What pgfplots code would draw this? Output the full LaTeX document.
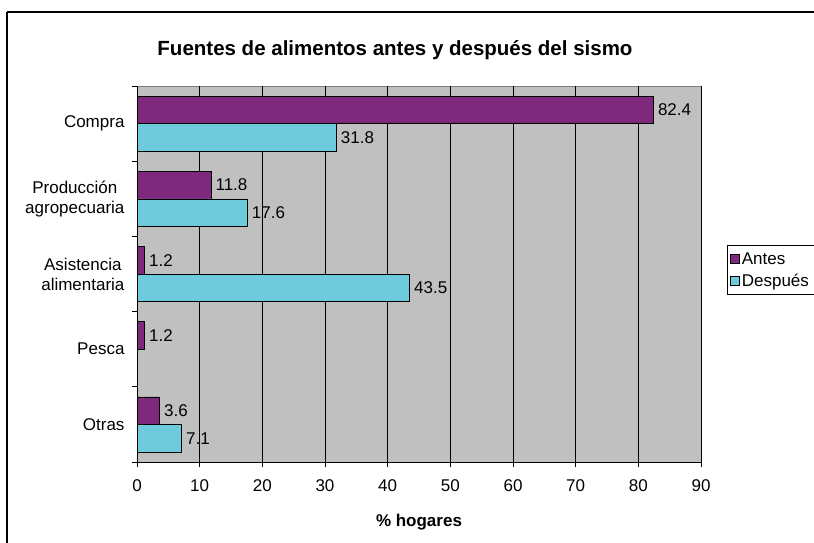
\documentclass[border=0pt]{standalone}
\usepackage{fontspec}
\setmainfont{Liberation Sans}
\usepackage{pgfplots}
\pgfplotsset{compat=1.18}

\definecolor{antes}{HTML}{7F297D}
\definecolor{despues}{HTML}{6DCBDC}
\definecolor{fondo}{HTML}{C0C0C0}
\definecolor{borde}{HTML}{808080}

\begin{document}
\begin{tikzpicture}[x=1pt,y=1pt]
\useasboundingbox (0,0) rectangle (814,542);
% marco exterior (se sale por la derecha y abajo)
\draw[line width=2pt] (7,530) -- (830,530) (7,530) -- (7,-20);
\node[font=\fontsize{20.5}{24}\selectfont\bfseries] at (395,492) {Fuentes de alimentos antes y después del sismo};

\begin{axis}[
    at={(137pt,80pt)}, anchor=south west,
    scale only axis, width=564pt, height=376pt,
    xbar, bar width=27.5pt,
    xmin=0, xmax=90, ymin=-0.5, ymax=4.5,
    y dir=reverse,
    xtick={0,10,...,90},
    ytick={-0.5,0.5,...,4.5}, yticklabels={},
    extra y ticks={0,1,2,3,4},
    extra y tick labels={Compra,{Producción\\agropecuaria},{Asistencia\\alimentaria},Pesca,Otras},
    extra y tick style={major tick length=0pt, tick style={draw=none},
        yticklabel style={align=center, xshift=-9pt}},
    tick align=outside,
    major tick length=5pt,
    tick style={black, line width=0.8pt},
    axis x line*=bottom, axis y line*=left,
    axis line style={black, line width=0.8pt},
    axis background/.style={fill=fondo, draw=borde, line width=1pt},
    xmajorgrids, grid style={black, line width=0.6pt},
    tick label style={font=\fontsize{17}{20}\selectfont},
    xticklabel style={yshift=-9pt},
    /pgf/number format/assume math mode=true,
    xlabel={\bfseries\% hogares},
    xlabel style={font=\fontsize{17}{20}\selectfont, yshift=-16pt},
    nodes near coords={\pgfmathprintnumber[fixed,fixed zerofill,precision=1]{\pgfplotspointmeta}},
    nodes near coords style={font=\fontsize{17}{20}\selectfont, /pgf/number format/assume math mode=true, xshift=1pt},
    legend style={at={(1.046,0.577)}, anchor=north west, draw=black, line width=0.6pt,
        font=\fontsize{17}{20}\selectfont, row sep=4pt, inner xsep=3pt, inner ysep=5pt},
    legend cell align=left,
    legend image code/.code={\draw[#1, draw=black, line width=0.6pt] (0pt,-4.5pt) rectangle (9pt,4.5pt);},
]
\addplot[fill=antes, draw=black, line width=0.6pt, bar shift=13.75pt] coordinates {
    (82.4,0) (11.8,1) (1.2,2) (1.2,3) (3.6,4)
};
\addlegendentry{Antes}
\addplot[fill=despues, draw=black, line width=0.6pt, bar shift=-13.75pt] coordinates {
    (31.8,0) (17.6,1) (43.5,2) (7.1,4)
};
\addlegendentry{Después}
\end{axis}
\end{tikzpicture}
\end{document}
